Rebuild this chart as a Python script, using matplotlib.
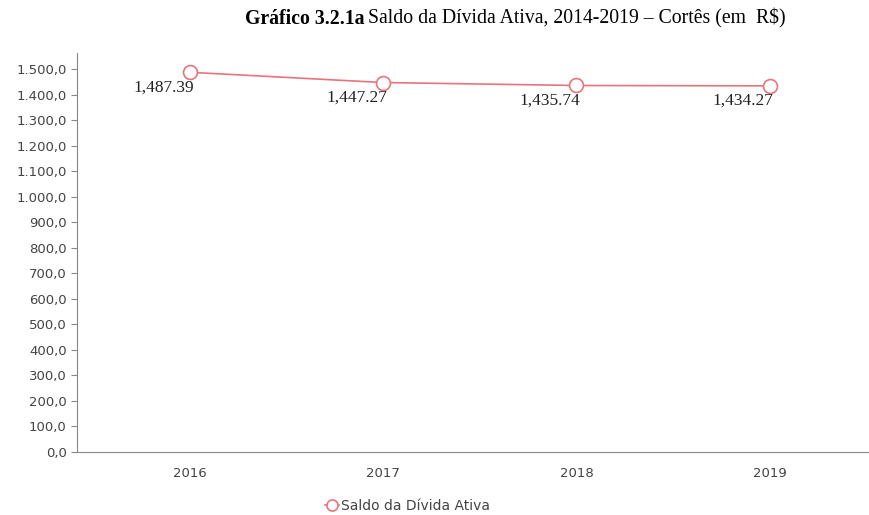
import numpy as np
import matplotlib.pyplot as plt
from matplotlib.ticker import FuncFormatter

anos = ["2016", "2017", "2018", "2019"]
saldo = [1487.39, 1447.27, 1435.74, 1434.27]
rotulos = ["1,487.39", "1,447.27", "1,435.74", "1,434.27"]

cor = "#e8747c"

fig = plt.figure(figsize=(8.69, 5.15), dpi=100)
ax = fig.add_axes([0.0886, 0.1223, 0.9104, 0.7748])

x = np.arange(len(anos))
linha, = ax.plot(x, saldo, color=cor, lw=1.2, marker="o", markersize=10,
                 markerfacecolor="white", markeredgecolor=cor, markeredgewidth=1.2,
                 label="Saldo da Dívida Ativa", zorder=3)

# rotulos de valor abaixo e a esquerda do ponto
for xi, yi, txt in zip(x, saldo, rotulos):
    ax.annotate(txt, (xi, yi), xytext=(3, -5), textcoords="offset points",
                ha="right", va="top", fontsize=12.5, family="Liberation Serif",
                color="#222222")

ax.set_xlim(-0.585, 3.51)
ax.set_ylim(0, 1563)
ax.set_yticks(np.arange(0, 1501, 100))


def fmt(v, pos):
    s = f"{v:,.1f}"
    return s.replace(",", "X").replace(".", ",").replace("X", ".")


ax.yaxis.set_major_formatter(FuncFormatter(fmt))
ax.set_xticks(x)
ax.set_xticklabels(anos)
ax.tick_params(axis="y", length=4, color="#888888", labelsize=9.5, labelcolor="#444444")
ax.tick_params(axis="x", length=0, pad=11, labelsize=9.5, labelcolor="#444444")
for s in ["top", "right"]:
    ax.spines[s].set_visible(False)
for s in ["left", "bottom"]:
    ax.spines[s].set_color("#888888")

t1 = fig.text(0.282, 0.964, "Gráfico 3.2.1a", ha="left", va="center", fontsize=14.2,
              family="Liberation Serif", weight="bold")
fig.canvas.draw()
bb = t1.get_window_extent()
fig.text(bb.x1 / fig.bbox.width + 0.004, 0.964,
         "Saldo da Dívida Ativa, 2014-2019 – Cortês (em  R$)",
         ha="left", va="center", fontsize=14.2, family="Liberation Serif")

fig.legend(handles=[linha], loc="center", bbox_to_anchor=(0.469, 0.018), frameon=False,
           fontsize=10, handlelength=1.0, handletextpad=0.1, labelcolor="#444444",
           markerscale=0.8)

fig.savefig("out.png", dpi=100)
